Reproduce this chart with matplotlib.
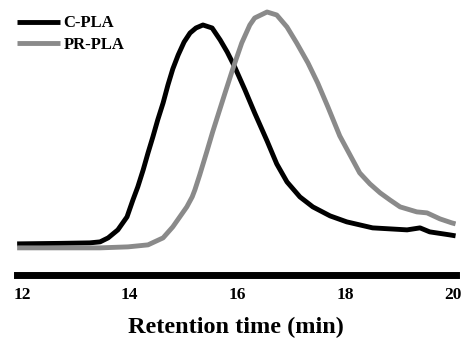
import matplotlib.pyplot as plt

# Retention time (min) and detector response (a.u.)
t_cpla = [11.91, 12.71, 13.26, 13.45, 13.60, 13.78, 13.95, 14.06, 14.15, 14.25,
          14.34, 14.43, 14.52, 14.62, 14.71, 14.80, 14.90, 15.01, 15.12, 15.23,
          15.36, 15.53, 15.68, 15.81, 15.95, 16.14, 16.32, 16.55, 16.73, 16.92,
          17.16, 17.40, 17.72, 18.03, 18.51, 19.15, 19.39, 19.57, 19.94, 20.05]
y_cpla = [31, 31.5, 32, 33, 37, 45, 58, 75, 88, 105,
          122, 138, 155, 172, 190, 206, 220, 233, 242, 247,
          250, 247, 235, 223, 208, 185, 162, 134, 111, 93,
          78, 68, 59, 53, 47, 45, 47, 43, 40, 39]

t_prpla = [11.91, 13.45, 13.97, 14.34, 14.62, 14.80, 14.93, 15.06, 15.16, 15.21,
           15.30, 15.43, 15.54, 15.64, 15.77, 15.92, 16.08, 16.23, 16.32, 16.55,
           16.73, 16.92, 17.10, 17.31, 17.49, 17.68, 17.90, 18.09, 18.27, 18.46,
           18.65, 18.83, 19.02, 19.33, 19.52, 19.76, 19.98, 20.05]
y_prpla = [27, 27, 28, 30, 37, 48, 58, 68, 78, 85,
           100, 123, 143, 160, 182, 207, 232, 250, 257, 263,
           260, 248, 232, 212, 192, 168, 139, 120, 102, 91,
           82, 75, 68, 63, 62, 56, 52, 51]

xticks = [12, 14, 16, 18, 20]

plt.rcParams['font.family'] = ['Liberation Serif', 'DejaVu Serif']
plt.rcParams['font.weight'] = 'bold'

fig = plt.figure(figsize=(4.65, 3.41), dpi=100)
ax = fig.add_axes([0.0357, 0.194, 0.944, 0.806])

ax.plot(t_cpla, y_cpla, color='black', lw=3.5, label='C-PLA',
        solid_capstyle='butt', solid_joinstyle='round')
ax.plot(t_prpla, y_prpla, color='#8a8a8a', lw=3.5, label='PR-PLA',
        solid_capstyle='butt', solid_joinstyle='round')

ax.set_xlim(11.9, 20.05)
ax.set_ylim(0, 275)
ax.set_xticks(xticks)
ax.set_yticks([])
for s in ['top', 'right', 'left']:
    ax.spines[s].set_visible(False)
ax.spines['bottom'].set_linewidth(5)
ax.tick_params(axis='x', length=0, pad=9, labelsize=12.5)
ax.set_xlabel('Retention time (min)', fontsize=17.5, fontweight='bold', labelpad=10)

ax.legend(loc='upper left', bbox_to_anchor=(-0.003, 0.95), frameon=False,
          fontsize=12, handlelength=2.6, handletextpad=0.2, labelspacing=0.35,
          borderpad=0.1, borderaxespad=0)

fig.savefig('out.png', dpi=100)
